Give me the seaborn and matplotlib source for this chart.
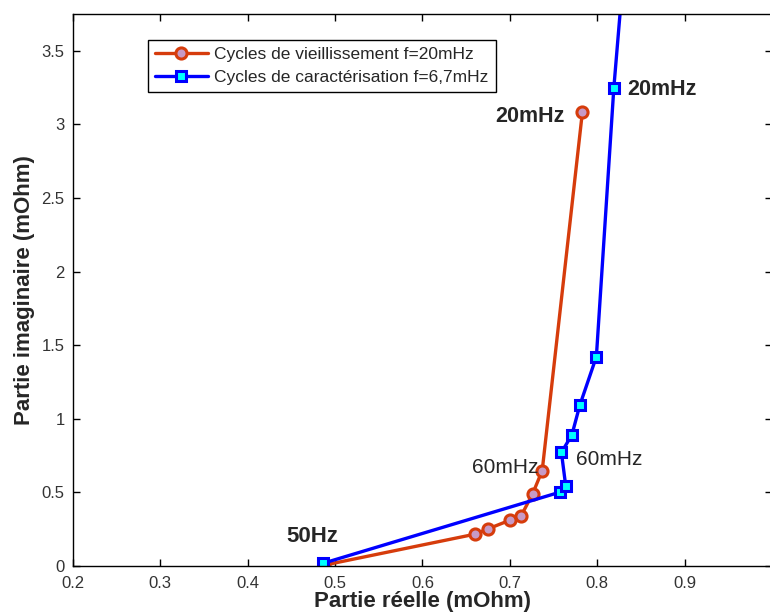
"""
Impedance plot (Nyquist-like) - ageing vs characterisation cycles
"""

import matplotlib
matplotlib.use("Agg")
import matplotlib.pyplot as plt
import seaborn as sns
import pandas as pd

# Data
vieil_re = [0.487, 0.660, 0.675, 0.700, 0.713, 0.726, 0.737, 0.783]
vieil_im = [0.005, 0.216, 0.252, 0.311, 0.342, 0.490, 0.648, 3.084]
carac_re = [0.486, 0.757, 0.764, 0.759, 0.771, 0.780, 0.799, 0.819, 0.831]
carac_im = [0.018, 0.501, 0.540, 0.771, 0.891, 1.091, 1.422, 3.250, 4.100]

series_labels = ["Cycles de vieillissement f=20mHz",
                 "Cycles de caractérisation f=6,7mHz"]

x_ticks = [0.2, 0.3, 0.4, 0.5, 0.6, 0.7, 0.8, 0.9]
x_ticklabels = ["0.2", "0.3", "0.4", "0.5", "0.6", "0.7", "0.8", "0.9"]
y_ticks = [0, 0.5, 1, 1.5, 2, 2.5, 3, 3.5]
y_ticklabels = ["0", "0.5", "1", "1.5", "2", "2.5", "3", "3.5"]

df_v = pd.DataFrame({"re": vieil_re, "im": vieil_im})
df_c = pd.DataFrame({"re": carac_re, "im": carac_im})

sns.set_style("ticks")
plt.rcParams['font.family'] = ['Liberation Sans', 'DejaVu Sans']

fig = plt.figure(figsize=(7.7, 6.15), dpi=100)
ax = fig.add_axes([0.0948, 0.0797, 0.9078, 0.8976])

sns.lineplot(data=df_v, x="re", y="im", sort=False, ax=ax, color="#D63C0C",
             linewidth=2.4, marker="o", markersize=8, 
             markerfacecolor="#C79AC6", markeredgecolor="#D63C0C",
             markeredgewidth=2.2, label=series_labels[0])
sns.lineplot(data=df_c, x="re", y="im", sort=False, ax=ax, color="#0000FF",
             linewidth=2.4, marker="s", markersize=6.5,
             markerfacecolor="#00FFFF", markeredgecolor="#0000FF",
             markeredgewidth=2.2, label=series_labels[1])

ax.set_xlim(0.2, 1.0)
ax.set_ylim(0, 3.75)
ax.set_xticks(x_ticks)
ax.set_xticklabels(x_ticklabels)
ax.set_yticks(y_ticks)
ax.set_yticklabels(y_ticklabels)
ax.tick_params(direction="in", length=5, width=1, top=True, right=True,
               labelsize=12, labelcolor="#333333", color="black")
ax.tick_params(axis="x", pad=7)
ax.tick_params(axis="y", pad=6)
for sp in ax.spines.values():
    sp.set_visible(True)
    sp.set_color("black")
    sp.set_linewidth(1)

ax.set_xlabel("Partie réelle (mOhm)", fontsize=16, fontweight="bold", labelpad=0)
ax.set_ylabel("Partie imaginaire (mOhm)", fontsize=16, fontweight="bold", labelpad=5)

# frequency annotations
ax.text(0.763, 3.054, "20mHz", fontsize=15.5, fontweight="bold", ha="right", va="center")
ax.text(0.834, 3.238, "20mHz", fontsize=15.5, fontweight="bold", ha="left", va="center")
ax.text(0.733, 0.667, "60mHz", fontsize=15, ha="right", va="center")
ax.text(0.776, 0.721, "60mHz", fontsize=15, ha="left", va="center")
ax.text(0.444, 0.197, "50Hz", fontsize=16, fontweight="bold", ha="left", va="center")

leg = ax.legend(loc="upper left", bbox_to_anchor=(0.108, 0.953), borderaxespad=0,
                fontsize=12.5, frameon=True, fancybox=False, handlelength=3.0,
                handletextpad=0.4, borderpad=0.4, labelspacing=0.45)
leg.get_frame().set_edgecolor("black")
leg.get_frame().set_linewidth(1)
leg.get_frame().set_alpha(1)

plt.savefig("out.png", dpi=100)
